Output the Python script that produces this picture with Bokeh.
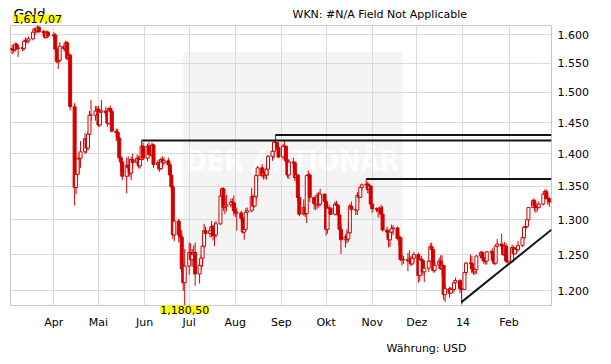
import numpy as np
import pandas as pd
from bokeh.plotting import figure
from bokeh.models import (ColumnDataSource, Range1d, FixedTicker, CustomJSTickFormatter,
                          Label, BoxAnnotation)
from bokeh.embed import file_html
from bokeh.resources import INLINE

# ---------------- data (gold, USD, daily OHLC; open = previous close) ----------------
month_keys = ["2013-03", "2013-04", "2013-05", "2013-06", "2013-07", "2013-08",
              "2013-09", "2013-10", "2013-11", "2013-12", "2014-01", "2014-02"]
holidays = ["2013-03-29", "2013-12-25", "2014-01-01"]

close_mar = [1576,1573,1574,1583,1576,1577,1576,1589,1589,1589,1593,1605,1611,1607,1614,1606,1604,1596,1605,1598]
high_mar = [1582,1583,1580,1587,1586,1582,1581,1592,1595,1594,1597,1609,1613,1612,1617.07,1616,1609,1608,1608,1608]
low_mar = [1565,1566,1568,1570,1573,1561,1571,1572,1582,1584,1586,1590,1600,1601,1604,1603,1597,1593,1594,1594]

close_apr = [1600,1575,1553,1555,1580,1575,1586,1558,1564,1476,1348,1368,1392,1393,1403,1424,1409,1431,1462,1462,1469,1472]
high_apr = [1605,1603,1578,1563,1587,1586,1590,1589,1569,1567,1482,1380,1393,1401,1420,1433,1425,1436,1469,1487,1477,1477]
low_apr = [1593,1570,1550,1540,1551,1570,1573,1555,1557,1470,1321,1338,1363,1368,1378,1400,1401,1405,1429,1452,1453,1463]

close_may = [1446,1467,1469,1466,1449,1473,1468,1436,1434,1425,1394,1387,1365,1382,1378,1370,1391,1386,1393,1381,1391,1412,1393]
high_may = [1477,1470,1487,1476,1471,1475,1478,1473,1440,1440,1426,1396,1391,1394,1396,1392,1395,1400,1399,1397,1396,1421,1418]
low_may = [1443,1443,1457,1460,1443,1446,1463,1434,1420,1420,1391,1373,1359,1339,1365,1364,1359,1378,1386,1377,1377,1390,1390]

close_jun = [1412,1399,1399,1414,1383,1386,1377,1391,1386,1389,1383,1367,1349,1278,1298,1278,1275,1230,1211,1234]
high_jun = [1416,1418,1405,1418,1416,1390,1392,1394,1396,1394,1394,1386,1375,1352,1300,1301,1285,1285,1236,1258]
low_jun = [1388,1396,1396,1395,1378,1374,1372,1374,1377,1382,1378,1366,1343,1272,1269,1267,1269,1226,1200,1180.5]

close_jul = [1253,1243,1250,1253,1223,1235,1245,1262,1284,1280,1284,1290,1277,1278,1294,1335,1346,1318,1320,1322,1326,1325,1313]
high_jul = [1267,1266,1258,1263,1267,1242,1250,1266,1294,1290,1290,1298,1293,1296,1298,1337,1348,1348,1332,1337,1331,1332,1336]
low_jul = [1222,1237,1233,1241,1207,1210,1229,1233,1259,1271,1274,1275,1270,1262,1274,1292,1322,1313,1308,1312,1318,1320,1306]

close_aug = [1310,1310,1302,1282,1286,1311,1313,1334,1320,1334,1366,1378,1366,1371,1367,1376,1396,1404,1418,1418,1410,1395]
high_aug = [1323,1318,1313,1305,1294,1317,1318,1347,1337,1338,1368,1381,1384,1375,1377,1382,1398,1407,1420,1430,1418,1412]
low_aug = [1304,1284,1297,1280,1271,1284,1305,1311,1314,1318,1328,1356,1363,1360,1361,1360,1366,1389,1392,1412,1406,1393]

close_sep = [1412,1412,1389,1367,1387,1386,1363,1367,1333,1308,1318,1309,1366,1367,1333,1324,1322,1336,1323,1338,1327]
high_sep = [1415,1420,1412,1390,1392,1394,1388,1370,1368,1335,1330,1323,1368,1374,1370,1334,1333,1340,1341,1346,1338]
low_sep = [1391,1390,1384,1362,1361,1379,1358,1355,1328,1305,1306,1304,1295,1357,1326,1315,1314,1316,1318,1320,1318]

close_oct = [1286,1317,1317,1308,1323,1321,1307,1286,1271,1275,1272,1281,1320,1315,1314,1336,1333,1348,1352,1353,1345,1350,1323]
high_oct = [1330,1319,1322,1318,1327,1328,1323,1310,1294,1279,1286,1296,1323,1327,1318,1341,1340,1350,1354,1361,1357,1354,1352]
low_oct = [1277,1280,1308,1307,1306,1313,1305,1280,1251,1260,1266,1268,1280,1310,1307,1307,1325,1332,1343,1347,1339,1338,1321]

close_nov = [1316,1315,1313,1317,1308,1285,1282,1271,1282,1287,1288,1273,1274,1243,1243,1243,1241,1244,1237,1245,1250]
high_nov = [1325,1318,1318,1319,1322,1320,1290,1285,1286,1293,1292,1290,1278,1276,1250,1248,1252,1256,1248,1250,1254]
low_nov = [1310,1311,1303,1308,1302,1283,1275,1260,1261,1276,1278,1270,1263,1241,1235,1237,1227,1237,1234,1236,1239]

close_dec = [1221,1243,1242,1226,1231,1241,1261,1257,1228,1235,1241,1230,1235,1195,1203,1197,1202,1211,1214,1203,1202]
high_dec = [1253,1245,1248,1245,1240,1242,1266,1267,1258,1241,1246,1249,1249,1235,1208,1206,1205,1215,1218,1216,1211]
low_dec = [1211,1213,1235,1221,1212,1226,1239,1253,1225,1225,1230,1229,1220,1188,1185,1191,1196,1198,1206,1197,1182]

close_jan = [1225,1238,1238,1230,1226,1229,1248,1253,1245,1241,1241,1254,1254,1242,1238,1262,1265,1262,1250,1262,1241,1240]
high_jan = [1231,1240,1250,1248,1232,1232,1249,1255,1255,1247,1246,1255,1256,1259,1245,1263,1272,1280,1262,1268,1266,1251]
low_jan = [1202,1222,1233,1224,1222,1222,1223,1245,1241,1237,1236,1236,1249,1238,1235,1236,1259,1256,1248,1243,1238,1238]

close_feb = [1260,1251,1258,1257,1263,1274,1289,1290,1300,1318,1328,1320,1318,1318,1323,1338,1342,1331,1331,1326]
high_feb = [1264,1262,1260,1261,1269,1275,1291,1297,1301,1318,1331,1331,1324,1324,1327,1340,1345,1345,1340,1334]
low_feb = [1239,1246,1251,1252,1254,1261,1272,1283,1287,1295,1317,1312,1310,1312,1316,1321,1331,1331,1322,1319]

# resistance lines / trend line
resist_levels = [1421, 1430, 1361]
resist_starts = ["2013-05-30", "2013-08-28", "2013-10-28"]
trend_dates = ["2013-12-31", "2014-03-01 12:00"]
trend_values = [1185, 1285.5]

month_ticks = ["2013-04-01", "2013-05-01", "2013-06-01", "2013-07-01", "2013-08-01", "2013-09-01",
               "2013-10-01", "2013-11-01", "2013-12-01", "2014-01-01", "2014-02-01"]
month_labels = ["Apr", "Mai", "Jun", "Jul", "Aug", "Sep", "Okt", "Nov", "Dez", "14", "Feb"]
y_ticks = [1200, 1250, 1300, 1350, 1400, 1450, 1500, 1550, 1600]

title_text = "Gold"
wkn_text = "WKN: #N/A Field Not Applicable"
currency_text = "Währung: USD"
watermark_text = "DER AKTIONÄR"

# ---------------- assemble ----------------
closes_m = [close_mar, close_apr, close_may, close_jun, close_jul, close_aug,
            close_sep, close_oct, close_nov, close_dec, close_jan, close_feb]
highs_m = [high_mar, high_apr, high_may, high_jun, high_jul, high_aug,
           high_sep, high_oct, high_nov, high_dec, high_jan, high_feb]
lows_m = [low_mar, low_apr, low_may, low_jun, low_jul, low_aug,
          low_sep, low_oct, low_nov, low_dec, low_jan, low_feb]

dates, C, H, L = [], [], [], []
for key, cl, hi, lo in zip(month_keys, closes_m, highs_m, lows_m):
    start = pd.Timestamp(key + "-01")
    end = start + pd.offsets.MonthEnd(0)
    days = [d for d in pd.bdate_range(start, end) if d.strftime("%Y-%m-%d") not in holidays]
    n = min(len(days), len(cl), len(hi), len(lo))
    dates += days[:n]
    C += cl[:n]
    H += hi[:n]
    L += lo[:n]

C = np.array(C, dtype=float)
O = np.r_[C[0], C[:-1]]
H = np.maximum(np.array(H, dtype=float), np.maximum(O, C))
L = np.minimum(np.array(L, dtype=float), np.minimum(O, C))
dates = pd.DatetimeIndex(dates)

RED = "#d10000"
src = ColumnDataSource(dict(
    x=dates, high=H, low=L,
    top=np.maximum(O, C), bottom=np.minimum(O, C),
    fill=np.where(C >= O, "white", RED),
))

# ---------------- figure ----------------
FW, FH = 541, 280
BL, BT = 10, 25
x0 = pd.Timestamp("2013-03-02 21:40")
x1 = pd.Timestamp("2014-03-01 12:00")
X0 = x0.value / 1e6
X1 = x1.value / 1e6
Y0 = float(L.min())
Y1 = float(H.max())

p = figure(frame_width=FW, frame_height=FH,
           min_border_left=BL, min_border_right=52, min_border_top=BT, min_border_bottom=59,
           x_axis_type="datetime", y_axis_type="log", y_axis_location="right",
           x_range=Range1d(X0, X1), y_range=Range1d(Y0, Y1),
           toolbar_location=None, output_backend="svg",
           background_fill_color="white", border_fill_color="white")
p.outline_line_color = "#c8c8c8"


def fx(px):  # canvas pixel -> data x (for annotation placement)
    return X0 + (px - BL) / FW * (X1 - X0)


def fy(py):  # canvas pixel -> data y on log scale
    a, b = np.log(Y0), np.log(Y1)
    return float(np.exp(b - (py - BT) / FH * (b - a)))


month_ms = [pd.Timestamp(t).value / 1e6 for t in month_ticks]

# watermark
p.add_layout(BoxAnnotation(left=fx(183), right=fx(402), top=fy(52), bottom=fy(270),
                           fill_color="#f4f4f4", fill_alpha=1.0, line_color=None, level="image"))
p.add_layout(Label(x=fx(292), y=fy(161), text=watermark_text, text_align="center",
                   text_baseline="middle", text_color="white",
                   text_font="Liberation Sans Narrow, DejaVu Sans Condensed, Liberation Sans, sans-serif",
                   text_font_style="bold", text_font_size="28px", level="image"))

# grid
p.xgrid.ticker = FixedTicker(ticks=month_ms)
p.ygrid.ticker = FixedTicker(ticks=y_ticks)
p.xgrid.grid_line_color = "#dadada"
p.ygrid.grid_line_color = "#dadada"

# x axis
xa = p.xaxis[0]
xa.ticker = FixedTicker(ticks=month_ms)
xa.formatter = CustomJSTickFormatter(args=dict(mticks=month_ms, mlabels=month_labels), code="""
    for (let i = 0; i < mticks.length; i++) {
        if (Math.abs(mticks[i] - tick) < 3600000) { return mlabels[i]; }
    }
    return "";
""")
xa.axis_line_color = None
xa.major_tick_line_color = None
xa.minor_tick_line_color = None
xa.major_tick_out = 0
xa.major_label_standoff = 10
xa.major_label_text_font = "DejaVu Sans"
xa.major_label_text_font_size = "11px"
xa.major_label_text_color = "#000000"

# y axis
ya = p.yaxis[0]
ya.ticker = FixedTicker(ticks=y_ticks)
ya.formatter = CustomJSTickFormatter(code="return (tick / 1000).toFixed(3);")
ya.axis_line_color = None
ya.major_tick_line_color = None
ya.minor_tick_line_color = None
ya.major_tick_out = 0
ya.major_label_standoff = 6
ya.major_label_text_font = "DejaVu Sans"
ya.major_label_text_font_size = "11px"
ya.major_label_text_color = "#000000"

# candles
p.segment(x0="x", y0="low", x1="x", y1="high", source=src, line_color=RED, line_width=1)
p.vbar(x="x", width=2 * 86400000, top="top", bottom="bottom", source=src,
       fill_color="fill", line_color=RED, line_width=1)

# resistance and trend lines
rs = [pd.Timestamp(d) for d in resist_starts]
p.segment(x0=rs, y0=resist_levels, x1=[x1] * len(rs), y1=resist_levels,
          line_color="#141414", line_width=2)
p.line(x=[pd.Timestamp(d) for d in trend_dates], y=trend_values, line_color="#141414", line_width=2)

# texts outside the frame (placed in side panels so that they are not clipped;
# their positions are in data units, so the panel only matters for the space it reserves)
imax = int(np.argmax(H))
imin = int(np.argmin(L))
p.add_layout(Label(x=fx(13), y=fy(5), text=title_text, text_align="left", text_baseline="top",
                   text_font="DejaVu Sans", text_font_size="14px", text_color="#000000"), "above")
p.add_layout(Label(x=dates[imax].value / 1e6, y=fy(14), text=f"{H[imax]:,.2f}".replace(".", ","),
                   text_align="center", text_baseline="top", text_font="DejaVu Sans",
                   text_font_size="11px", text_color="#000000", background_fill_color="#ffff00"),
             "above")
p.add_layout(Label(x=dates[imin].value / 1e6, y=Y0, text=f"{L[imin]:,.2f}".replace(".", ","),
                   text_align="center", text_baseline="top", text_font="DejaVu Sans",
                   text_font_size="11px", text_color="#000000", background_fill_color="#ffff00"),
             "below")
p.add_layout(Label(x=fx(292), y=fy(14), text=wkn_text, text_align="left", text_baseline="middle",
                   text_font="DejaVu Sans", text_font_size="11px", text_color="#000000"), "below")
p.add_layout(Label(x=fx(386), y=fy(348), text=currency_text, text_align="left",
                   text_baseline="middle", text_font="DejaVu Sans", text_font_size="11px",
                   text_color="#000000"), "below")

open("out.html", "w").write(file_html(p, INLINE))
